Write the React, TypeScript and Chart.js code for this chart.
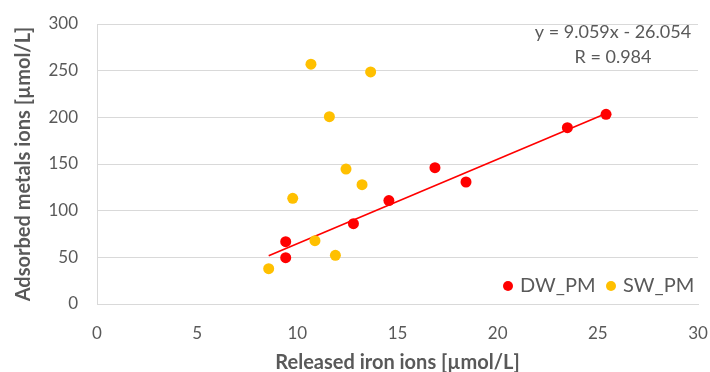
import React, { useEffect, useRef } from "react";
import { Chart, registerables } from "chart.js";

Chart.register(...registerables);

const dwX = [9.42, 9.42, 12.8, 14.57, 16.87, 18.42, 23.48, 25.41];
const dwY = [49.6, 66.8, 86, 110.8, 146, 130.7, 188.9, 203.2];
const swX = [8.57, 9.77, 10.68, 10.88, 11.6, 11.9, 12.43, 13.23, 13.66];
const swY = [37.8, 113.2, 257, 67.8, 200.7, 52.2, 144.6, 127.8, 248.6];
const trendSlope = 9.059;
const trendIntercept = -26.054;
const trendRange = [8.57, 25.41];
const seriesNames = ["DW_PM", "SW_PM"];
const equationLines = ["y = 9.059x - 26.054", "R = 0.984"];
const xTitle = "Released iron ions [µmol/L]";
const yTitle = "Adsorbed metals ions [µmol/L]";

const RED = "#FF0000";
const YEL = "#FFC000";
const TXT = "#595959";
const GRID = "#D9D9D9";
const FONT = "Lato";

export default function App() {
  const ref = useRef<HTMLCanvasElement>(null);
  useEffect(() => {
    document.body.style.margin = "0";
    const overlay = {
      id: "overlay",
      afterDraw(chart: any) {
        const ctx = chart.ctx;
        ctx.save();
        ctx.fillStyle = TXT;
        ctx.font = `18px ${FONT}`;
        ctx.textAlign = "center";
        ctx.textBaseline = "middle";
        ctx.fillText(equationLines[0], 613, 32);
        ctx.fillText(equationLines[1], 613, 57);
        // legend
        const colors = [RED, YEL];
        const pos = [508, 611];
        ctx.textAlign = "left";
        ctx.font = `20px ${FONT}`;
        for (let i = 0; i < 2; i++) {
          ctx.beginPath();
          ctx.fillStyle = colors[i];
          ctx.arc(pos[i], 286, 5, 0, Math.PI * 2);
          ctx.fill();
          ctx.fillStyle = TXT;
          ctx.fillText(seriesNames[i], pos[i] + 12, 286);
        }
        ctx.restore();
      },
    };
    const chart = new Chart(ref.current!, {
      type: "scatter",
      data: {
        datasets: [
          {
            label: "trend",
            data: trendRange.map((x) => ({ x, y: trendSlope * x + trendIntercept })),
            showLine: true,
            borderColor: RED,
            borderWidth: 1.6,
            pointRadius: 0,
            order: 3,
          },
          {
            label: seriesNames[0],
            data: dwX.map((x, i) => ({ x, y: dwY[i] })),
            backgroundColor: RED,
            borderColor: RED,
            pointRadius: 5.5,
            borderWidth: 0,
            order: 1,
          },
          {
            label: seriesNames[1],
            data: swX.map((x, i) => ({ x, y: swY[i] })),
            backgroundColor: YEL,
            borderColor: YEL,
            pointRadius: 5.5,
            borderWidth: 0,
            order: 2,
          },
        ],
      },
      options: {
        animation: false,
        responsive: false,
        maintainAspectRatio: false,
        layout: { padding: { left: 0, top: 24, right: 12, bottom: 0 } },
        plugins: { legend: { display: false }, tooltip: { enabled: false } },
        scales: {
          x: {
            type: "linear",
            min: 0,
            max: 30,
            afterFit: (s: any) => {
              s.height = 68;
              s.paddingLeft = 0;
              s.paddingRight = 0;
            },
            ticks: { stepSize: 5, color: TXT, font: { family: FONT, size: 17 }, padding: 19 },
            grid: { display: false, drawTicks: false },
            border: { display: true, color: GRID },
            title: {
              display: true,
              text: xTitle,
              color: TXT,
              font: { family: FONT, size: 20, weight: "bold" },
              padding: { top: 0, bottom: -3 },
            },
          },
          y: {
            type: "linear",
            min: 0,
            max: 300,
            afterFit: (s: any) => {
              s.width = 97;
              s.paddingTop = 0;
              s.paddingBottom = 0;
            },
            ticks: { stepSize: 50, color: TXT, font: { family: FONT, size: 17 }, padding: 19 },
            grid: { color: GRID, drawTicks: false, lineWidth: 1 },
            border: { display: true, color: GRID },
            title: {
              display: true,
              text: yTitle,
              color: TXT,
              font: { family: FONT, size: 20, weight: "bold" },
              padding: { top: 12, bottom: 0 },
            },
          },
        },
      },
      plugins: [overlay],
    } as any);
    return () => chart.destroy();
  }, []);
  return (
    <div style={{ position: "fixed", left: 0, top: 0, width: 710, height: 372 }}>
      <canvas ref={ref} width={710} height={372} style={{ width: 710, height: 372 }} />
    </div>
  );
}
